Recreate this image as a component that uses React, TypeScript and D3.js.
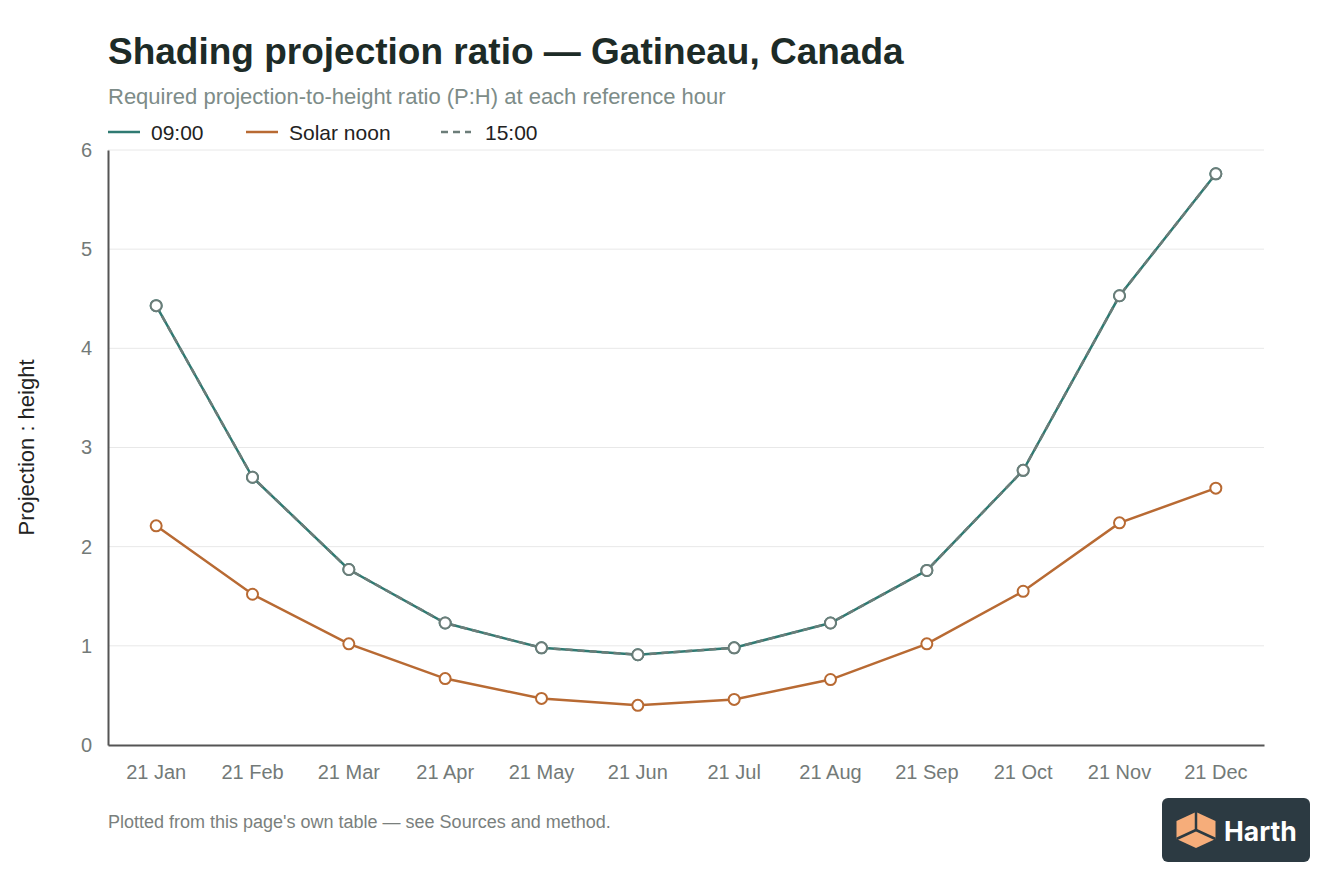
import React, { useEffect, useRef } from "react";
import * as d3 from "d3";

const months = [
  "21 Jan", "21 Feb", "21 Mar", "21 Apr", "21 May", "21 Jun",
  "21 Jul", "21 Aug", "21 Sep", "21 Oct", "21 Nov", "21 Dec",
];
const morning = [4.43, 2.7, 1.77, 1.23, 0.98, 0.91, 0.98, 1.23, 1.76, 2.77, 4.53, 5.76];
const noon = [2.21, 1.52, 1.02, 0.67, 0.47, 0.4, 0.46, 0.66, 1.02, 1.55, 2.24, 2.59];
const afternoon = [4.43, 2.7, 1.77, 1.23, 0.98, 0.91, 0.98, 1.23, 1.76, 2.77, 4.53, 5.76];
const yTicks = [0, 1, 2, 3, 4, 5, 6];

const seriesNames = ["09:00", "Solar noon", "15:00"];
const seriesColors = ["#2f7a72", "#b86a33", "#6c7d79"];
const seriesDash = [null, null, "7,5"];

const FONT = "'Liberation Sans', Arial, Helvetica, sans-serif";

const App: React.FC = () => {
  const svgRef = useRef<SVGSVGElement | null>(null);

  useEffect(() => {
    if (!svgRef.current) return;
    const svg = d3.select(svgRef.current);
    svg.selectAll("*").remove();

    const width = 1344;
    const height = 896;
    const margin = { top: 150, right: 80, bottom: 151, left: 108 };

    svg.attr("width", width).attr("height", height).style("font-family", FONT);
    svg.append("rect").attr("width", width).attr("height", height).attr("fill", "#fff");

    const x = d3
      .scaleBand<string>()
      .domain(months)
      .range([margin.left, width - margin.right]);
    const y = d3
      .scaleLinear()
      .domain([0, 6])
      .range([height - margin.bottom, margin.top]);
    const cx = (d: string) => (x(d) ?? 0) + x.bandwidth() / 2;

    // title block
    svg.append("text")
      .attr("x", 108).attr("y", 64)
      .attr("font-size", 37).attr("font-weight", 700)
      .attr("fill", "#1d2b27")
      .text("Shading projection ratio — Gatineau, Canada");
    svg.append("text")
      .attr("x", 108).attr("y", 104)
      .attr("font-size", 22).attr("fill", "#7d8c88")
      .text("Required projection-to-height ratio (P:H) at each reference hour");

    // legend
    const legendX = [108, 246, 441];
    seriesNames.forEach((name, i) => {
      const lg = svg.append("g").attr("transform", `translate(${legendX[i]},132)`);
      lg.append("line")
        .attr("x1", 0).attr("x2", i === 2 ? 30 : 32).attr("y1", 0).attr("y2", 0)
        .attr("stroke", seriesColors[i]).attr("stroke-width", 2.5)
        .attr("stroke-dasharray", seriesDash[i] ?? null);
      lg.append("text")
        .attr("x", i === 2 ? 44 : 43).attr("y", 7.5)
        .attr("font-size", 21).attr("fill", "#222")
        .text(name);
    });

    // grid
    svg.append("g")
      .selectAll("line")
      .data(yTicks.slice(1))
      .join("line")
      .attr("x1", margin.left).attr("x2", width - margin.right)
      .attr("y1", (d) => y(d)).attr("y2", (d) => y(d))
      .attr("stroke", "#e8e8e8").attr("stroke-width", 1);

    // y axis
    const yAxis = svg.append("g")
      .attr("transform", `translate(${margin.left},0)`)
      .call(d3.axisLeft(y).tickValues(yTicks).tickSize(0).tickPadding(16).tickFormat(d3.format("d")));
    yAxis.select(".domain").attr("stroke", "#555").attr("stroke-width", 2);
    yAxis.selectAll("text").attr("font-size", 20).attr("fill", "#737a78").attr("font-family", FONT);

    // x axis
    const xAxis = svg.append("g")
      .attr("transform", `translate(0,${height - margin.bottom})`)
      .call(d3.axisBottom(x).tickSize(0).tickPadding(20));
    xAxis.select(".domain").attr("stroke", "#555").attr("stroke-width", 2);
    xAxis.selectAll("text").attr("font-size", 20).attr("fill", "#737a78").attr("font-family", FONT);

    svg.append("text")
      .attr("transform", `translate(34,${(margin.top + height - margin.bottom) / 2}) rotate(-90)`)
      .attr("text-anchor", "middle")
      .attr("font-size", 22).attr("fill", "#222")
      .text("Projection : height");

    // lines
    const line = d3
      .line<number>()
      .x((_, i) => cx(months[i]))
      .y((d) => y(d));

    const allSeries = [morning, noon, afternoon];
    allSeries.forEach((vals, i) => {
      svg.append("path")
        .datum(vals)
        .attr("fill", "none")
        .attr("stroke", seriesColors[i])
        .attr("stroke-width", 2.5)
        .attr("stroke-dasharray", seriesDash[i] ?? null)
        .attr("d", line);
    });
    allSeries.forEach((vals, i) => {
      svg.append("g")
        .selectAll("circle")
        .data(vals)
        .join("circle")
        .attr("cx", (_, j) => cx(months[j]))
        .attr("cy", (d) => y(d))
        .attr("r", 5.5)
        .attr("fill", "#fff")
        .attr("stroke", seriesColors[i])
        .attr("stroke-width", 2);
    });

    // footnote
    svg.append("text")
      .attr("x", 108).attr("y", 828)
      .attr("font-size", 18).attr("fill", "#7a7f7d")
      .text("Plotted from this page's own table — see Sources and method.");

    // logo badge
    const logo = svg.append("g").attr("transform", "translate(1162,798)");
    logo.append("rect")
      .attr("width", 148).attr("height", 64).attr("rx", 6)
      .attr("fill", "#2c3a42");
    const hx = 34, hy = 32, hw = 19.5, hh = 18;
    const hex = d3.range(6).map((k) => {
      const a = (Math.PI / 3) * k - Math.PI / 2;
      return [hx + hw * Math.cos(a) / Math.cos(Math.PI / 6), hy + hh * Math.sin(a)] as [number, number];
    });
    hex.forEach((p) => { p[0] = Math.max(hx - hw, Math.min(hx + hw, p[0])); });
    logo.append("path")
      .attr("d", d3.line()(hex) + "Z")
      .attr("fill", "#f6ad7a");
    [0, 2, 4].forEach((k) => {
      logo.append("line")
        .attr("x1", hx).attr("y1", hy)
        .attr("x2", hex[k][0]).attr("y2", hex[k][1])
        .attr("stroke", "#2c3a42").attr("stroke-width", 2.5);
    });
    logo.append("text")
      .attr("x", 62).attr("y", 43)
      .attr("font-size", 26.5).attr("font-weight", 700)
      .attr("font-family", "Inter, 'Liberation Sans', sans-serif")
      .attr("fill", "#fff")
      .text("Harth");
  }, []);

  return <svg ref={svgRef} style={{ position: "absolute", left: 0, top: 0, display: "block" }}></svg>;
};

export default App;
